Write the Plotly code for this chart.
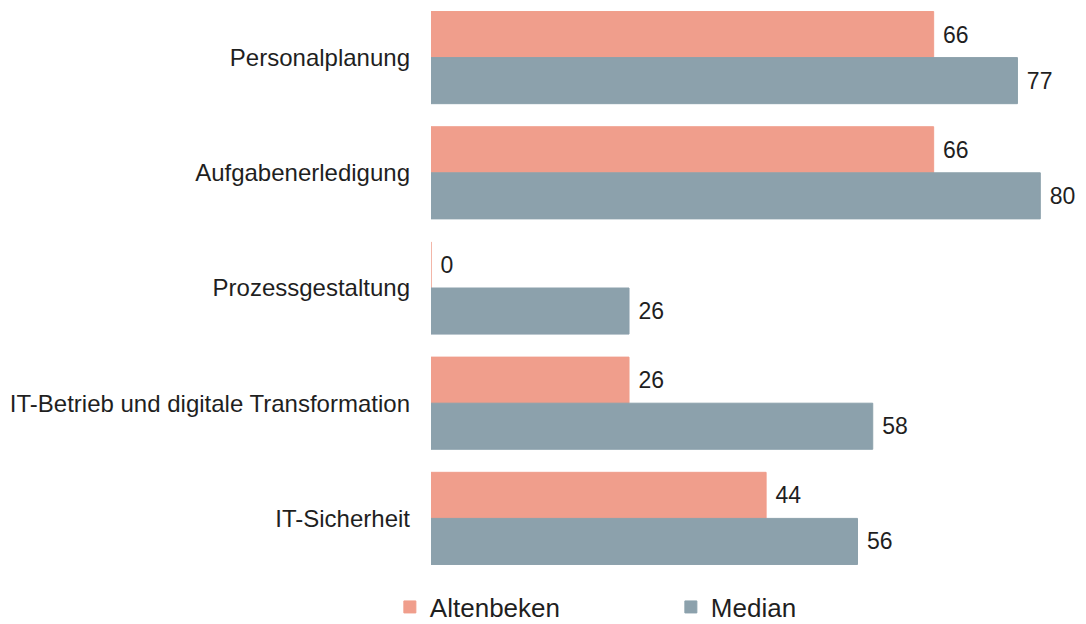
import plotly.graph_objects as go

# Kategorien (von oben nach unten) und Werte je Reihe
categories = [
    "Personalplanung",
    "Aufgabenerledigung",
    "Prozessgestaltung",
    "IT-Betrieb und digitale Transformation",
    "IT-Sicherheit",
]
altenbeken = [66, 66, 0, 26, 44]
median = [77, 80, 26, 58, 56]

series_names = ["Altenbeken", "Median"]
colors = ["#F09E8C", "#8CA1AC"]

font_family = "Liberation Sans, Arial, sans-serif"
text_color = "#1f1f1f"

fig = go.Figure()
for name, values, color in zip(series_names, [altenbeken, median], colors):
    fig.add_trace(
        go.Bar(
            name=name,
            y=categories,
            x=values,
            orientation="h",
            marker=dict(color=color, line=dict(color=color, width=1)),
            text=values,
            texttemplate="\u00a0%{x}",
            textposition="outside",
            cliponaxis=False,
            textfont=dict(family=font_family, size=23, color=text_color),
        )
    )

fig.update_layout(
    width=1086,
    height=624,
    margin=dict(l=431, r=0, t=0, b=48),
    paper_bgcolor="white",
    plot_bgcolor="white",
    barmode="group",
    bargap=0.2,
    bargroupgap=0,
    font=dict(family=font_family, color=text_color),
    showlegend=True,
    legend=dict(
        orientation="h",
        x=0.359,
        xanchor="left",
        xref="container",
        y=0.0272,
        yanchor="middle",
        yref="container",
        font=dict(family=font_family, size=26, color=text_color),
        entrywidth=236,
        entrywidthmode="pixels",
        traceorder="normal",
    ),
    xaxis=dict(
        range=[0, 86],
        showgrid=False,
        zeroline=False,
        showticklabels=False,
        showline=False,
        ticks="",
    ),
    yaxis=dict(
        autorange="reversed",
        showgrid=False,
        zeroline=False,
        showline=False,
        ticks="",
        ticklabelstandoff=20,
        tickfont=dict(family=font_family, size=24, color=text_color),
    ),
)

fig.write_html("out.html")
